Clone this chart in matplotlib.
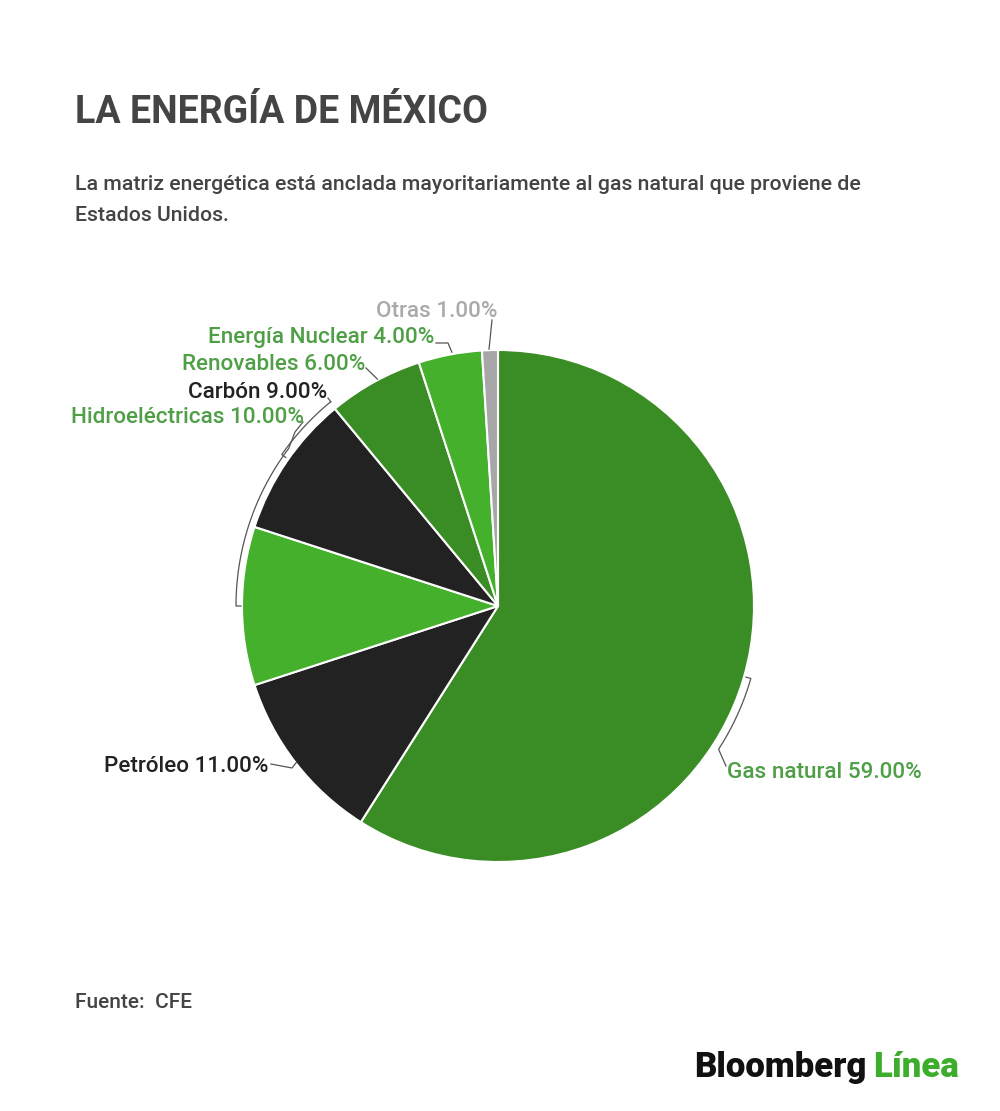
import matplotlib
matplotlib.use("Agg")
import matplotlib.pyplot as plt
import numpy as np

plt.rcParams['font.family'] = ['Roboto', 'DejaVu Sans']

# datos
categorias = ['Gas natural', 'Petróleo', 'Hidroeléctricas', 'Carbón',
              'Renovables', 'Energía Nuclear', 'Otras']
valores = [59.0, 11.0, 10.0, 9.0, 6.0, 4.0, 1.0]
colores = ['#3a8d24', '#222222', '#45b02b', '#222222', '#3a8d24', '#45b02b', '#a8a6a8']
color_texto = ['#4f9f47', '#222222', '#4f9f47', '#222222', '#4f9f47', '#4f9f47', '#aaaaaa']

W, H = 1000, 1111
CX, CY, R = 498, 606, 256


def Y(py):
    return H - py


def polar(ang, rr):
    a = np.deg2rad(ang)
    return CX + rr * np.cos(a), CY - rr * np.sin(a)


fig = plt.figure(figsize=(10, 11.11), dpi=100)
ax = fig.add_axes([0, 0, 1, 1])

ax.pie(valores, colors=colores, startangle=90, counterclock=False,
       center=(CX, Y(CY)), radius=R,
       wedgeprops=dict(edgecolor='white', linewidth=1.5))
ax.set_xlim(0, W)
ax.set_ylim(0, H)
ax.set_aspect('auto')
ax.axis('off')

# etiquetas: (x, baseline, alineacion)
pos_etiquetas = {
    'Gas natural': (727, 778, 'left'),
    'Petróleo': (269, 772, 'right'),
    'Hidroeléctricas': (304, 423, 'right'),
    'Carbón': (327, 398, 'right'),
    'Renovables': (365, 370, 'right'),
    'Energía Nuclear': (434, 343, 'right'),
    'Otras': (497, 317, 'right'),
}

# conectores: puntos iniciales, arco (a1, a2, r), remate
conectores = {
    'Gas natural': ([(726, 766)], (-33, -16, 263), 258),
    'Petróleo': ([(271, 764), (292, 768)], (217.8, 217.8, 255), None),
    'Hidroeléctricas': ([(303, 422), (295, 432)], (143, 180, 262), 257),
    'Carbón': ([(328, 398), (331, 402)], (129.5, 145, 264), 259),
    'Renovables': ([(366, 368)], (118, 118, 257), None),
    'Energía Nuclear': ([(436, 343), (448, 343)], (100.3, 100.3, 258), None),
    'Otras': ([(492, 320)], (92, 92, 257), None),
}

for cat, val, ct in zip(categorias, valores, color_texto):
    x, yb, ha = pos_etiquetas[cat]
    ax.text(x, Y(yb), f'{cat} {val:.2f}%', ha=ha, va='baseline',
            fontsize=16.2, fontweight='medium', color=ct)
    pts, (a1, a2, rr), rt = conectores[cat]
    angs = np.linspace(a1, a2, 30)
    xs = [p[0] for p in pts] + [polar(a, rr)[0] for a in angs]
    ys = [p[1] for p in pts] + [polar(a, rr)[1] for a in angs]
    if rt is not None:
        tx, ty = polar(a2, rt)
        xs.append(tx)
        ys.append(ty)
    ax.plot(xs, [Y(v) for v in ys], color='#555555', lw=0.9, solid_joinstyle='round')

# textos
ax.text(75, Y(123), 'LA ENERGÍA DE MÉXICO', fontsize=27, fontweight='bold',
        color='#444444', ha='left', va='baseline')
ax.text(75, Y(190), 'La matriz energética está anclada mayoritariamente al gas natural que proviene de',
        fontsize=15.3, fontweight='medium', color='#444444', ha='left', va='baseline')
ax.text(75, Y(221), 'Estados Unidos.', fontsize=15.3, fontweight='medium',
        color='#444444', ha='left', va='baseline')
ax.text(75, Y(1008), 'Fuente:  CFE', fontsize=15, fontweight='medium',
        color='#444444', ha='left', va='baseline')
ax.text(867, Y(1077), 'Bloomberg', fontsize=25, fontweight='black',
        color='#111111', ha='right', va='baseline')
ax.text(873, Y(1077), 'Línea', fontsize=25, fontweight='black',
        color='#3dae2b', ha='left', va='baseline')

fig.savefig('out.png', dpi=100, facecolor='white')
